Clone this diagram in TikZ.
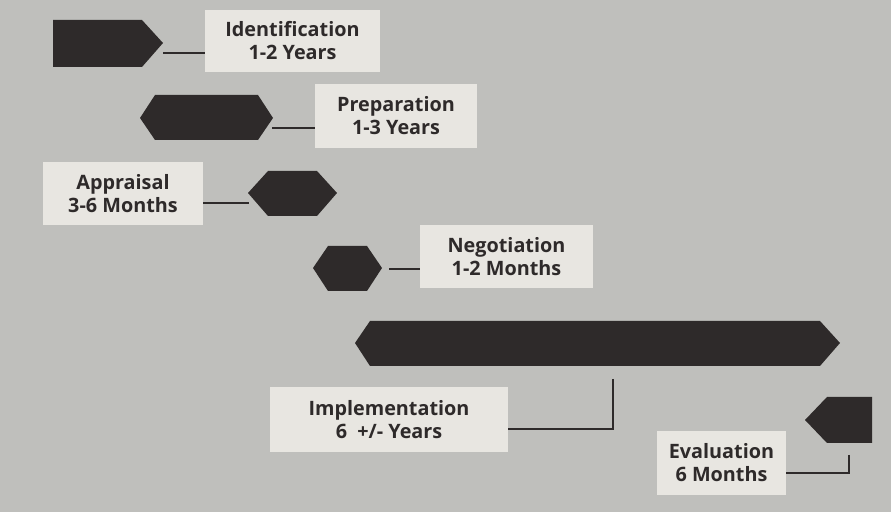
\documentclass[tikz,border=0pt]{standalone}
\usepackage{fontspec}
\setsansfont{Open Sans}
\usepackage{tikz}

\definecolor{screen}{HTML}{BFBFBC}
\definecolor{card}{HTML}{E8E6E1}
\definecolor{ink}{HTML}{2E2A2A}

\begin{document}
\begin{tikzpicture}[x=0.5pt,y=-0.5pt,
      bar/.style={fill=ink},
      tagbox/.style={fill=card,inner sep=0pt,align=center,text=ink,
         font=\sffamily\bfseries\fontsize{9.9}{11.5}\selectfont},
      joinline/.style={draw=ink,line width=1pt}] % Phases
   \useasboundingbox (0,0) rectangle (891,512);
   \fill[screen] (0,0) rectangle (891,512);
   % bars
   \fill[bar] (53,20) -- (142,20) -- (163,43) -- (142,67) -- (53,67) -- cycle;
   \fill[bar] (140,118) -- (155,95) -- (258,95) -- (273,118) -- (258,140) -- (155,140) -- cycle;
   \fill[bar] (248,193) -- (268,171) -- (317,171) -- (337,193) -- (317,216) -- (268,216) -- cycle;
   \fill[bar] (313,268) -- (328,246) -- (367,246) -- (382,268) -- (367,291) -- (328,291) -- cycle;
   \fill[bar] (355,343) -- (370,321) -- (820,321) -- (840,343) -- (820,366) -- (370,366) -- cycle;
   \fill[bar] (805,420) -- (827,397) -- (872,397) -- (872,443) -- (827,443) -- cycle;
   % ends of the connectors
   \coordinate (idend) at (163,53);
   \coordinate (prepend) at (272,128);
   \coordinate (apprend) at (249,203);
   \coordinate (negend) at (389,269);
   \coordinate (implend) at (613,379);
   \coordinate (evalend) at (849,455);
   % labels
   \node[tagbox,minimum width=87.5pt,minimum height=31pt] (idbox) at (292.5,41) {Identification\\1-2 Years};
   \node[tagbox,minimum width=81pt,minimum height=32pt] (prepbox) at (396,116) {Preparation\\1-3 Years};
   \node[tagbox,minimum width=80pt,minimum height=31.5pt] (apprbox) at (123,193.5) {Appraisal\\3-6 Months};
   \node[tagbox,minimum width=86.5pt,minimum height=31.5pt] (negbox) at (506.5,256.5) {Negotiation\\1-2 Months};
   \node[tagbox,minimum width=119pt,minimum height=32.5pt] (implbox) at (389,419.5) {Implementation\\6\ \ +/- Years};
   \node[tagbox,minimum width=64.5pt,minimum height=32pt] (evalbox) at (721.5,463) {Evaluation\\6 Months};
   % connectors
   \draw[joinline] (idend) -- (idend -| idbox.west);
   \draw[joinline] (prepend) -- (prepend -| prepbox.west);
   \draw[joinline] (apprend -| apprbox.east) -- (apprend);
   \draw[joinline] (negend) -- (negend -| negbox.west);
   \draw[joinline] (implend) |- ([yshift=-5pt]implbox.east);
   \draw[joinline] (evalend) |- ([yshift=-5pt]evalbox.east);
\end{tikzpicture}
\end{document}
